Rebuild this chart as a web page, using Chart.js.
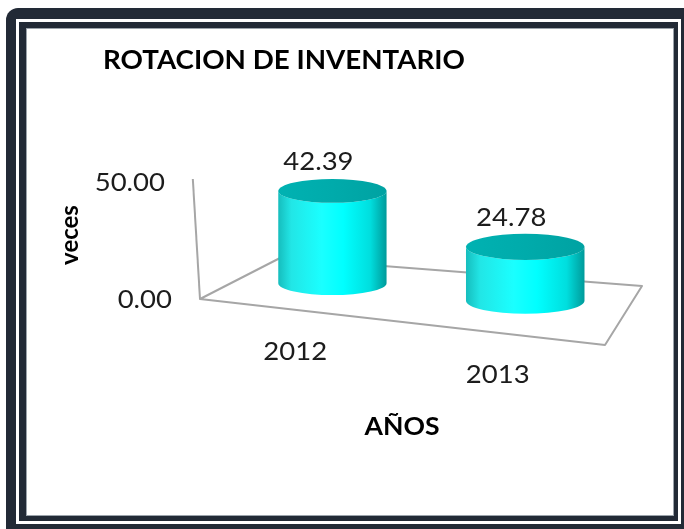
<!DOCTYPE html>
<html>
<head>
<meta charset="utf-8">
<script src="https://cdn.jsdelivr.net/npm/chart.js@4/dist/chart.umd.min.js"></script>
<style>
  html, body { margin:0; padding:0; width:684px; height:529px; overflow:hidden; background:#fff; }
  .f { position:absolute; }
  #outer { left:6px; top:8px; width:700px; height:540px; background:#222a36; border-top-left-radius:12px; }
  #gap { left:16px; top:19px; width:665px; height:505px; background:#fff; }
  #inner { left:19px; top:22px; width:659px; height:499px; background:#222a36; }
  #content { left:26px; top:28px; width:648px; height:488px; background:#fff; border:1px solid #9ba3ab; box-sizing:border-box; }
  #wrap { position:absolute; left:0; top:0; width:684px; height:529px; }
</style>
</head>
<body>
<div class="f" id="outer"></div>
<div class="f" id="gap"></div>
<div class="f" id="inner"></div>
<div class="f" id="content"></div>
<div id="wrap"><canvas id="c" width="684" height="529"></canvas></div>
<script>
// ---- data ----
const categories = ['2012', '2013'];
const rotacionValues = [42.39, 24.78];
const yTickValues = [0, 50];
const yTickLabels = ['0.00', '50.00'];
const chartTitle = 'ROTACION DE INVENTARIO';
const yAxisTitle = 'veces';
const xAxisTitle = 'AÑOS';

// ---- 3D styling constants ----
const FRONT_SLOPE = 46 / 405;
const BACK_LEFT = { dx: 80, dy: -41 };
const BACK_RIGHT = { dx: 37, dy: -59 };
const FONT = 'Lato, "Open Sans", sans-serif';
const NUM_FONT = '25px ' + FONT;
const NUM_STRETCH = 1.1;

function fitText(ctx, text, x, y, width, font, align) {
  ctx.save();
  ctx.font = font;
  const w = ctx.measureText(text).width;
  const s = width / w;
  ctx.translate(x, y);
  ctx.scale(s, 1);
  ctx.textAlign = align || 'left';
  ctx.textBaseline = 'middle';
  ctx.fillText(text, 0, 0);
  ctx.restore();
}

function numText(ctx, text, x, y, align) {
  ctx.save();
  ctx.font = NUM_FONT;
  ctx.translate(x, y);
  ctx.scale(NUM_STRETCH, 1);
  ctx.textAlign = align;
  ctx.textBaseline = 'middle';
  ctx.fillText(text, 0, 0);
  ctx.restore();
}

const cylinder3D = {
  id: 'cylinder3D',
  afterDatasetsDraw(chart) {
    const ctx = chart.ctx;
    const ys = chart.scales.y;
    const area = chart.chartArea;
    const L = area.left, R = area.right, W = R - L;
    const y0 = ys.getPixelForValue(0);
    const F = t => ({ x: L + W * t, y: y0 + FRONT_SLOPE * W * t });
    const B = t => {
      const f = F(t);
      return { x: f.x + BACK_LEFT.dx + (BACK_RIGHT.dx - BACK_LEFT.dx) * t,
               y: f.y + BACK_LEFT.dy + (BACK_RIGHT.dy - BACK_LEFT.dy) * t };
    };
    ctx.save();
    // floor
    ctx.strokeStyle = '#a6a6a6';
    ctx.lineWidth = 2;
    ctx.lineJoin = 'round';
    const f0 = F(0), f1 = F(1), b0 = B(0), b1 = B(1);
    ctx.beginPath();
    ctx.moveTo(f0.x, f0.y); ctx.lineTo(b0.x, b0.y); ctx.lineTo(b1.x, b1.y);
    ctx.lineTo(f1.x, f1.y); ctx.closePath();
    ctx.stroke();
    // vertical axis
    const yTop = ys.getPixelForValue(yTickValues[yTickValues.length - 1]);
    const axisX = y => f0.x - 7 * (y0 - y) / (y0 - yTop);
    ctx.beginPath();
    ctx.moveTo(f0.x, f0.y);
    ctx.lineTo(axisX(yTop - 3), yTop - 3);
    ctx.stroke();
    // y tick labels
    ctx.fillStyle = '#1c1c1c';
    yTickValues.forEach((v, i) => {
      const y = ys.getPixelForValue(v);
      numText(ctx, yTickLabels[i], axisX(y) - 28, y + 1, 'right');
    });
    // cylinders
    const meta = chart.getDatasetMeta(0);
    meta.data.forEach((el, i) => {
      const t = (el.x - L) / W;
      const f = F(t), b = B(t);
      const cx = f.x + 0.45 * (b.x - f.x);
      const cy = f.y + 0.6 * (b.y - f.y);
      const h = (el.base - el.y) * 0.93;
      const rx = (el.width / 2) * (1 + 0.18 * (t - 0.5));
      const ry = rx * 0.22;
      const topY = cy - h;
      const g = ctx.createLinearGradient(cx - rx, 0, cx + rx, 0);
      g.addColorStop(0, '#16bdbd');
      g.addColorStop(0.12, '#22e6e6');
      g.addColorStop(0.4, '#1affff');
      g.addColorStop(0.6, '#00ffff');
      g.addColorStop(0.85, '#00dede');
      g.addColorStop(1, '#009a9a');
      ctx.beginPath();
      ctx.moveTo(cx - rx, topY);
      ctx.lineTo(cx - rx, cy);
      ctx.ellipse(cx, cy, rx, ry, 0, Math.PI, 0, true);
      ctx.lineTo(cx + rx, topY);
      ctx.ellipse(cx, topY, rx, ry, 0, 0, Math.PI, false);
      ctx.closePath();
      ctx.fillStyle = g;
      ctx.fill();
      const gt = ctx.createLinearGradient(cx - rx, 0, cx + rx, 0);
      gt.addColorStop(0, '#00b2b2');
      gt.addColorStop(0.5, '#00abab');
      gt.addColorStop(1, '#00a2a2');
      ctx.beginPath();
      ctx.ellipse(cx, topY, rx, ry, 0, 0, Math.PI * 2);
      ctx.fillStyle = gt;
      ctx.fill();
      // value label
      ctx.fillStyle = '#1c1c1c';
      numText(ctx, rotacionValues[i].toFixed(2), cx - 14, topY - 29, 'center');
      // category label
      numText(ctx, categories[i], el.x - 6, f.y + 41, 'center');
    });
    // titles
    ctx.fillStyle = '#000';
    fitText(ctx, chartTitle, 103, 61, 362, 'bold 26px ' + FONT, 'left');
    fitText(ctx, xAxisTitle, 402, 427, 75, 'bold 24px ' + FONT, 'center');
    ctx.save();
    ctx.translate(70, 235);
    ctx.rotate(-Math.PI / 2);
    ctx.font = 'bold 24px ' + FONT;
    ctx.textAlign = 'center';
    ctx.textBaseline = 'middle';
    ctx.fillText(yAxisTitle, 0, 0);
    ctx.restore();
    ctx.restore();
  }
};

new Chart(document.getElementById('c'), {
  type: 'bar',
  data: {
    labels: categories,
    datasets: [{
      data: rotacionValues,
      backgroundColor: 'rgba(0,0,0,0)',
      borderWidth: 0,
      barPercentage: 0.56,
      categoryPercentage: 1
    }]
  },
  options: {
    responsive: false,
    animation: false,
    events: [],
    layout: { padding: { left: 200, right: 79, top: 182, bottom: 230 } },
    plugins: { legend: { display: false }, tooltip: { enabled: false }, title: { display: false } },
    scales: {
      x: { display: false, offset: true },
      y: { display: false, min: yTickValues[0], max: yTickValues[yTickValues.length - 1], ticks: { stepSize: 50 } }
    }
  },
  plugins: [cylinder3D]
});
</script>
</body>
</html>
